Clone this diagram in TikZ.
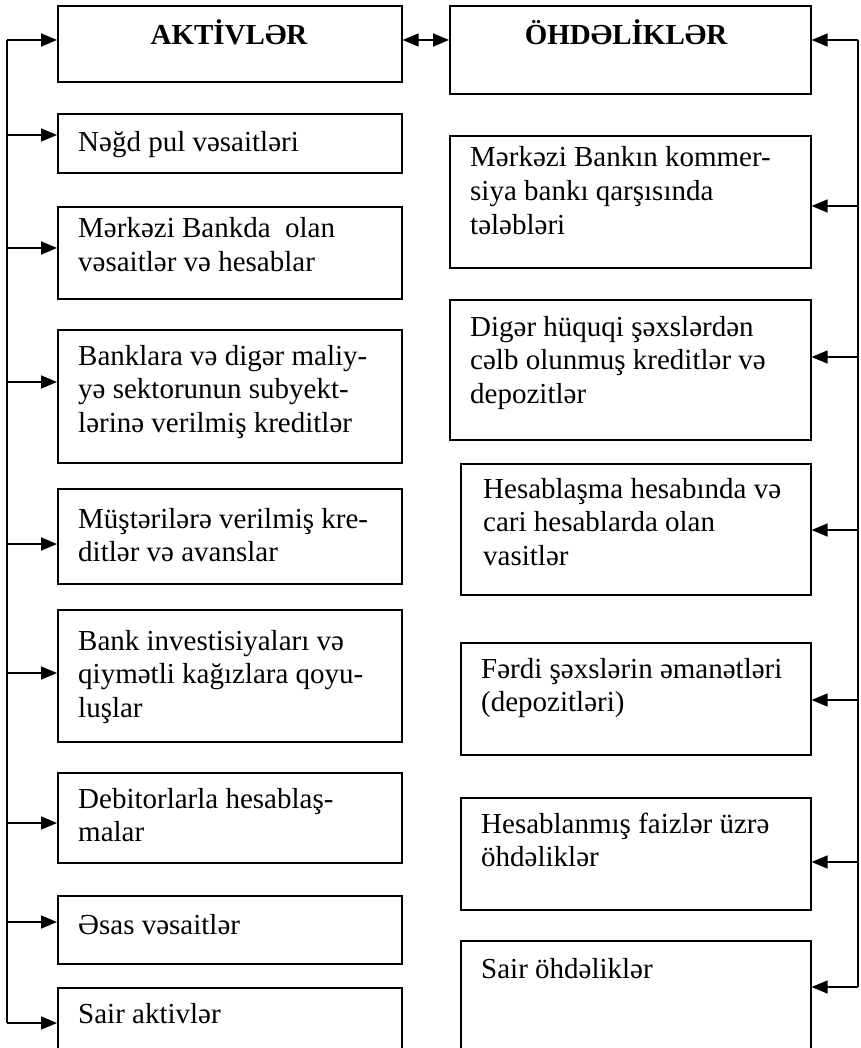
\documentclass[tikz,border=0pt]{standalone}
\usepackage{fontspec}
\setmainfont{Liberation Serif}
\usetikzlibrary{arrows.meta}
\begin{document}
\begin{tikzpicture}[x=1pt,y=-1pt,
  box/.style={draw, line width=1.6pt, inner sep=0pt, anchor=north west},
  txt/.style={anchor=base west, inner sep=0pt, align=left, font=\fontsize{29}{33.7}\selectfont},
  ttl/.style={anchor=base, inner sep=0pt, font=\fontsize{29}{33.7}\selectfont\bfseries},
  conn/.style={line width=1.6pt},
  arr/.style={conn, -{Triangle[length=16pt,width=13pt]}},
  darr/.style={conn, {Triangle[length=16pt,width=13pt]}-{Triangle[length=16pt,width=13pt]}}]
\useasboundingbox (0,0) rectangle (860,1048);
\clip (0,0) rectangle (860,1048);
% left boxes
\node[box, minimum width=344pt, minimum height=76pt]  (l1) at (57,5) {};
\node[box, minimum width=344pt, minimum height=59pt]  (l2) at (57,113) {};
\node[box, minimum width=344pt, minimum height=92pt]  (l3) at (57,206) {};
\node[box, minimum width=344pt, minimum height=133pt] (l4) at (57,329) {};
\node[box, minimum width=344pt, minimum height=95pt]  (l5) at (57,488) {};
\node[box, minimum width=344pt, minimum height=132pt] (l6) at (57,609) {};
\node[box, minimum width=344pt, minimum height=90pt]  (l7) at (57,772) {};
\node[box, minimum width=344pt, minimum height=68pt]  (l8) at (57,895) {};
\node[box, minimum width=344pt, minimum height=90pt]  (l9) at (57,987) {};
% right boxes
\node[box, minimum width=361pt, minimum height=88pt]  (r1) at (449,5) {};
\node[box, minimum width=361pt, minimum height=132pt] (r2) at (449,135) {};
\node[box, minimum width=361pt, minimum height=140pt] (r3) at (449,299) {};
\node[box, minimum width=350pt, minimum height=131pt] (r4) at (460,463) {};
\node[box, minimum width=350pt, minimum height=112pt] (r5) at (460,642) {};
\node[box, minimum width=350pt, minimum height=112pt] (r6) at (460,797) {};
\node[box, minimum width=350pt, minimum height=130pt] (r7) at (460,940) {};
% texts (anchor = baseline of last line)
\node[ttl] (t1) at (229,45) {AKTİVLƏR};
\node[ttl] (s1) at (626,45) {ÖHDƏLİKLƏR};
\node[txt] (t2) at (78,152) {Nəğd pul vəsaitləri};
\node[txt] (t3) at (78,271.7) {Mərkəzi Bankda\ \ olan\\vəsaitlər və hesablar};
\node[txt] (t4) at (78,432.4) {Banklara və digər maliy-\\yə sektorunun subyekt-\\lərinə verilmiş kreditlər};
\node[txt] (t5) at (78,561.7) {Müştərilərə verilmiş kre-\\ditlər və avanslar};
\node[txt] (t6) at (78,717.4) {Bank investisiyaları və\\qiymətli kağızlara qoyu-\\luşlar};
\node[txt] (t7) at (78,841.7) {Debitorlarla hesablaş-\\malar};
\node[txt] (t8) at (78,934) {Əsas vəsaitlər};
\node[txt] (t9) at (78,1023) {Sair aktivlər};
\node[txt] (s2) at (470,234.4) {Mərkəzi Bankın kommer-\\siya bankı qarşısında\\tələbləri};
\node[txt] (s3) at (470,403.4) {Digər hüquqi şəxslərdən\\cəlb olunmuş kreditlər və\\depozitlər};
\node[txt] (s4) at (483,565.4) {Hesablaşma hesabında və\\cari hesablarda olan\\vasitlər};
\node[txt] (s5) at (481,711.7) {Fərdi şəxslərin əmanətləri\\(depozitləri)};
\node[txt] (s6) at (481,866.7) {Hesablanmış faizlər üzrə\\öhdəliklər};
\node[txt] (s7) at (481,978) {Sair öhdəliklər};
% double arrow between titles
\coordinate (dm) at (430,40);
\draw[darr] (dm -| l1.east) -- (dm -| r1.west);
% left trunk
\coordinate (la1) at (7,40);
\coordinate (la2) at (7,135);
\coordinate (la3) at (7,248);
\coordinate (la4) at (7,382);
\coordinate (la5) at (7,544);
\coordinate (la6) at (7,673);
\coordinate (la7) at (7,823);
\coordinate (la8) at (7,922);
\coordinate (la9) at (7,1023);
\draw[conn] (la1) -- (la9);
\foreach \i in {1,...,9} {\draw[arr] (la\i) -- (la\i -| l\i.west);}
% right trunk
\coordinate (ra1) at (858,40);
\coordinate (ra2) at (858,206);
\coordinate (ra3) at (858,357);
\coordinate (ra4) at (858,530);
\coordinate (ra5) at (858,700);
\coordinate (ra6) at (858,862);
\coordinate (ra7) at (858,987);
\draw[conn] (ra1) -- (ra7);
\foreach \i in {1,...,7} {\draw[arr] (ra\i) -- (ra\i -| r\i.east);}
\end{tikzpicture}
\end{document}
